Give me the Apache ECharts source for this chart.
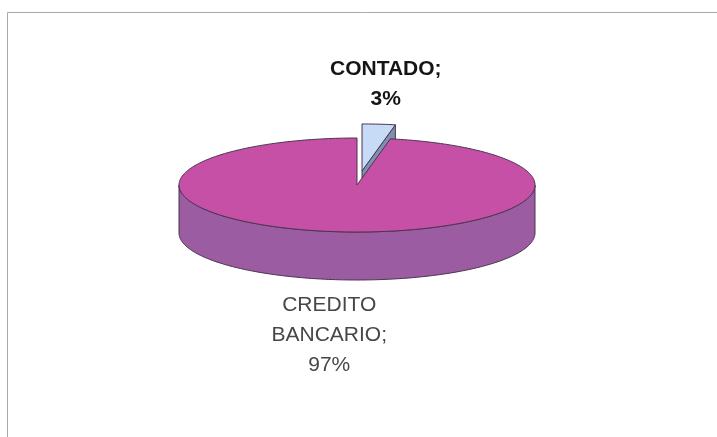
<!DOCTYPE html>
<html>
<head>
<meta charset="utf-8">
<script src="https://cdn.jsdelivr.net/npm/echarts@6/dist/echarts.min.js"></script>
<style>
  html, body { margin: 0; padding: 0; background: #ffffff; }
  #chart { width: 717px; height: 437px; }
</style>
</head>
<body>
<div id="chart"></div>
<script>
// Data: payment method shares
const categories = ['CONTADO', 'CREDITO BANCARIO'];
const values = [3, 97];

// Geometry of the tilted pie (screen pixels)
const PIE = { cx: 357, cy: 185, rx: 178, ry: 47, depth: 48 };

// Per-slice look: face colours, explode factor, label placement and font
const SLICE_STYLE = [
  { top: '#C7DAF6', side: '#7F90AE', explode: 0.3,
    label: { dx: 7, dy: -70, weight: 'bold', color: '#151515', anchor: 'top' } },
  { top: '#C650A6', side: '#9C5CA2', explode: 0,
    label: { dx: -11, dy: 10, weight: 'normal', color: '#474747', anchor: 'bottom' } }
];

const total = values.reduce((a, b) => a + b, 0);
const starts = [];
values.reduce((acc, v) => { starts.push(acc); return acc + v; }, 0);

const TAU = Math.PI * 2;
const EDGE = '#4a3550';

function point(theta, ox, oy, dz) {
  return [PIE.cx + ox + PIE.rx * Math.sin(theta),
          PIE.cy + oy - PIE.ry * Math.cos(theta) + (dz || 0)];
}
function arc(a0, a1, ox, oy, dz) {
  const n = Math.max(2, Math.ceil((a1 - a0) / 0.02));
  const pts = [];
  for (let k = 0; k <= n; k++) pts.push(point(a0 + (a1 - a0) * k / n, ox, oy, dz));
  return pts;
}

function renderSlice(params, api) {
  const i = params.dataIndex;
  const v = api.value(1);
  const a0 = starts[i] / total * TAU;
  const a1 = (starts[i] + v) / total * TAU;
  const mid = (a0 + a1) / 2;
  const st = SLICE_STYLE[i];
  const ox = st.explode * PIE.rx * Math.sin(mid);
  const oy = -st.explode * PIE.ry * Math.cos(mid);
  const c = [PIE.cx + ox, PIE.cy + oy];
  const cb = [c[0], c[1] + PIE.depth];
  const base = Math.round(100 * (1 - Math.cos(mid)));
  const children = [];
  const edgeStyle = { stroke: EDGE, lineWidth: 1 };

  // curved outer wall: only the part that faces the viewer
  const w0 = Math.max(a0, Math.PI / 2), w1 = Math.min(a1, Math.PI * 1.5);
  if (w1 > w0) {
    const topArc = arc(w0, w1, ox, oy, 0);
    const botArc = arc(w0, w1, ox, oy, PIE.depth).reverse();
    children.push({ type: 'polygon', z2: base,
      shape: { points: topArc.concat(botArc) },
      style: Object.assign({ fill: st.side }, edgeStyle) });
  }
  // radial cut faces that face the viewer
  const radial = (a) => {
    const p = point(a, ox, oy, 0);
    children.push({ type: 'polygon', z2: base + 1,
      shape: { points: [c, p, [p[0], p[1] + PIE.depth], cb] },
      style: Object.assign({ fill: st.side }, edgeStyle) });
  };
  if (Math.sin(a0) < -1e-6) radial(a0);
  if (Math.sin(a1) > 1e-6) radial(a1);

  // top face
  children.push({ type: 'polygon', z2: base + 2,
    shape: { points: [c].concat(arc(a0, a1, ox, oy, 0)) },
    style: Object.assign({ fill: st.top }, edgeStyle) });

  // data label: category; percentage
  const pct = Math.round(v / total * 100) + '%';
  const name = categories[i].split(' ').join('\n') + ';\n' + pct;
  const anchorPt = st.label.anchor === 'top'
    ? point(mid, ox, oy, 0)
    : point(mid, ox, oy, PIE.depth);
  children.push({ type: 'text', z2: base + 3,
    x: anchorPt[0] + st.label.dx, y: anchorPt[1] + st.label.dy,
    style: { text: name, fill: st.label.color,
      font: st.label.weight + ' 21px "Liberation Sans", Arial, sans-serif',
      lineHeight: 30, align: 'center', verticalAlign: 'top' } });

  return { type: 'group', children: children };
}

const chart = echarts.init(document.getElementById('chart'), null, { renderer: 'canvas' });
chart.setOption({
  backgroundColor: '#ffffff',
  animation: false,
  graphic: [
    { type: 'polyline', silent: true,
      shape: { points: [[7.5, 437], [7.5, 12.5], [717, 12.5]] },
      style: { stroke: '#a9a9a9', lineWidth: 1, fill: null } }
  ],
  series: [{
    type: 'custom',
    coordinateSystem: 'none',
    renderItem: renderSlice,
    data: values.map((v, i) => [i, v])
  }]
});
</script>
</body>
</html>
